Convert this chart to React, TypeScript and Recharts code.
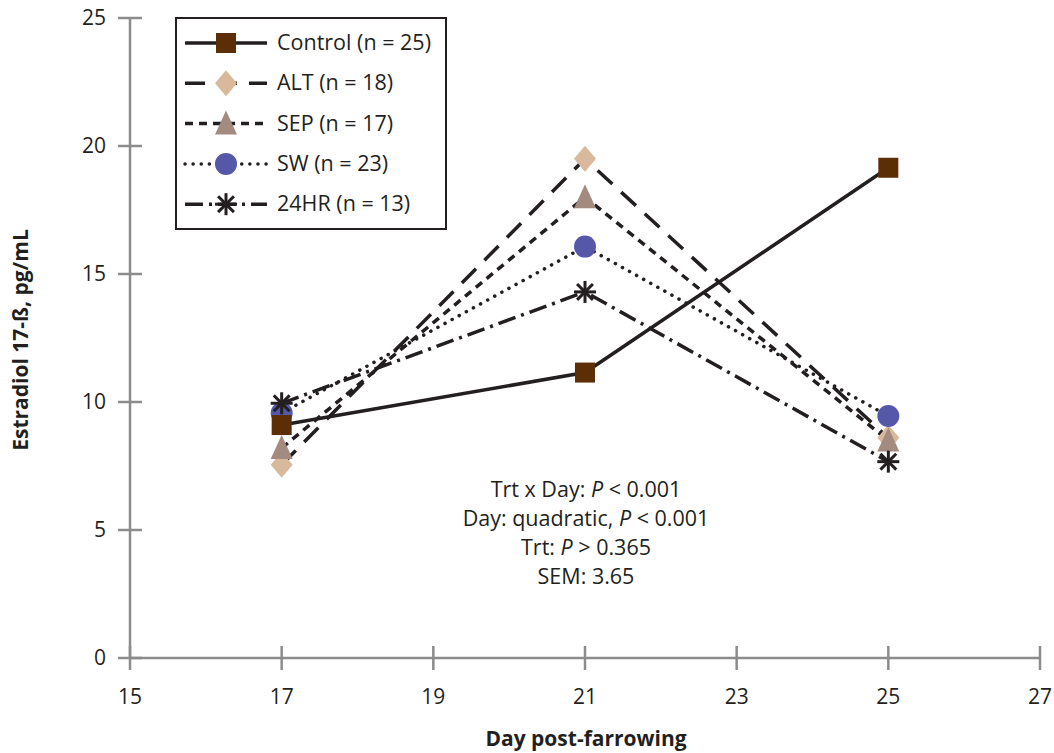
import { LineChart, Line, XAxis, YAxis } from 'recharts';

const days = [17, 21, 25];
const control = [9.1, 11.15, 19.15];
const alt = [7.55, 19.5, 8.6];
const sep = [8.2, 18.0, 8.5];
const sw = [9.57, 16.07, 9.45];
const hr24 = [9.95, 14.3, 7.67];
const xTicks = [15, 17, 19, 21, 23, 25, 27];
const yTicks = [0, 5, 10, 15, 20, 25];

const ink = '#231f20';
const axisGray = '#8c8c8c';
const font = '"Open Sans", sans-serif';

type Series = {
  key: string;
  name: string;
  marker: string;
  color: string;
  dash: string;
  cap: 'butt' | 'round';
};

const series: Series[] = [
  { key: 'alt', name: 'ALT (n = 18)', marker: 'diamond', color: '#d9b99b', dash: '20 12', cap: 'butt' },
  { key: 'sep', name: 'SEP (n = 17)', marker: 'triangle', color: '#a38b80', dash: '8 6', cap: 'butt' },
  { key: 'sw', name: 'SW (n = 23)', marker: 'circle', color: '#5558a8', dash: '0.1 8', cap: 'round' },
  { key: 'control', name: 'Control (n = 25)', marker: 'square', color: '#5c2e06', dash: '', cap: 'butt' },
  { key: 'hr24', name: '24HR (n = 13)', marker: 'asterisk', color: ink, dash: '18 6 3 6', cap: 'butt' },
];
const legendOrder = ['control', 'alt', 'sep', 'sw', 'hr24'];

const data = days.map((d, i) => ({
  day: d,
  control: control[i],
  alt: alt[i],
  sep: sep[i],
  sw: sw[i],
  hr24: hr24[i],
}));

const Marker = ({ type, cx, cy, color }: { type: string; cx: number; cy: number; color: string }) => {
  if (type === 'square') return <rect x={cx - 10} y={cy - 10} width={20} height={20} fill={color} />;
  if (type === 'diamond')
    return <polygon points={`${cx},${cy - 13} ${cx + 11},${cy} ${cx},${cy + 13} ${cx - 11},${cy}`} fill={color} />;
  if (type === 'triangle')
    return <polygon points={`${cx},${cy - 13} ${cx + 11},${cy + 11} ${cx - 11},${cy + 11}`} fill={color} />;
  if (type === 'circle') return <circle cx={cx} cy={cy} r={11} fill={color} />;
  const r = 11;
  const d = r * 0.72;
  return (
    <g stroke={ink} strokeWidth={3}>
      <line x1={cx} y1={cy - r} x2={cx} y2={cy + r} />
      <line x1={cx - r} y1={cy} x2={cx + r} y2={cy} />
      <line x1={cx - d} y1={cy - d} x2={cx + d} y2={cy + d} />
      <line x1={cx - d} y1={cy + d} x2={cx + d} y2={cy - d} />
    </g>
  );
};

const YTick = (props: any) => {
  const { x, y, payload } = props;
  return (
    <g>
      <line x1={x - 12} y1={y} x2={x + 12} y2={y} stroke={axisGray} strokeWidth={2.5} />
      <text x={x - 24} y={y} dy={7} textAnchor="end" fontSize={21} fill={ink} fontFamily={font}>
        {payload.value}
      </text>
    </g>
  );
};

const XTick = (props: any) => {
  const { x, y, payload } = props;
  return (
    <g>
      <line x1={x} y1={y - 12} x2={x} y2={y + 12} stroke={axisGray} strokeWidth={2.5} />
      <text x={x} y={y + 46} textAnchor="middle" fontSize={21} fill={ink} fontFamily={font}>
        {payload.value}
      </text>
    </g>
  );
};

const LegendBox = () => (
  <svg width={272} height={213} style={{ position: 'absolute', left: 175, top: 17 }}>
    <rect x={1} y={1} width={270} height={211} fill="#fff" stroke={ink} strokeWidth={2} />
    {legendOrder.map((k, i) => {
      const s = series.find((v) => v.key === k)!;
      const cy = 26 + i * 40.3;
      return (
        <g key={k}>
          <line
            x1={10}
            y1={cy}
            x2={92}
            y2={cy}
            stroke={ink}
            strokeWidth={3.5}
            strokeDasharray={s.dash || undefined}
            strokeLinecap={s.cap}
          />
          <Marker type={s.marker} cx={51} cy={cy} color={s.color} />
          <text x={102} y={cy + 7} fontSize={21.5} fill={ink} fontFamily={font}>
            {s.name}
          </text>
        </g>
      );
    })}
  </svg>
);

export default function App() {
  return (
    <div style={{ position: 'absolute', left: 0, top: 0, width: 1054, height: 753, background: '#fff' }}>
      <LineChart width={1054} height={753} data={data} margin={{ top: 18, right: 14, left: 60, bottom: 55 }}>
        <XAxis
          dataKey="day"
          type="number"
          domain={[15, 27]}
          ticks={xTicks}
          height={40}
          tickSize={0}
          tickMargin={0}
          tickLine={false}
          axisLine={{ stroke: axisGray, strokeWidth: 2.5 }}
          tick={<XTick />}
          interval={0}
          label={{
            content: () => (
              <text x={586} y={746} textAnchor="middle" fontSize={21} fontWeight="bold" fill={ink} fontFamily={font}>
                Day post-farrowing
              </text>
            ),
          }}
        />
        <YAxis
          type="number"
          domain={[0, 25]}
          ticks={yTicks}
          width={70}
          tickSize={0}
          tickMargin={0}
          tickLine={false}
          axisLine={{ stroke: axisGray, strokeWidth: 2.5 }}
          tick={<YTick />}
          interval={0}
          label={{
            content: () => (
              <text
                x={28}
                y={340}
                transform="rotate(-90 28 340)"
                textAnchor="middle"
                fontSize={21}
                fontWeight="bold"
                fill={ink}
                fontFamily={font}
              >
                Estradiol 17-ß, pg/mL
              </text>
            ),
          }}
        />
        {series.map((s) => (
          <Line
            key={s.key}
            dataKey={s.key}
            name={s.name}
            stroke={ink}
            strokeWidth={3.5}
            strokeDasharray={s.dash || undefined}
            strokeLinecap={s.cap}
            isAnimationActive={false}
            activeDot={false}
            dot={(p: any) => <Marker key={`${s.key}-${p.index}`} type={s.marker} cx={p.cx} cy={p.cy} color={s.color} />}
          />
        ))}
      </LineChart>
      <LegendBox />
      <div
        style={{
          position: 'absolute',
          left: 436,
          top: 474,
          width: 300,
          textAlign: 'center',
          fontFamily: font,
          fontSize: 21.5,
          lineHeight: '29px',
          color: ink,
        }}
      >
        <div>
          Trt x Day: <i>P</i> &lt; 0.001
        </div>
        <div>
          Day: quadratic, <i>P</i> &lt; 0.001
        </div>
        <div>
          Trt: <i>P</i> &gt; 0.365
        </div>
        <div>SEM: 3.65</div>
      </div>
    </div>
  );
}
